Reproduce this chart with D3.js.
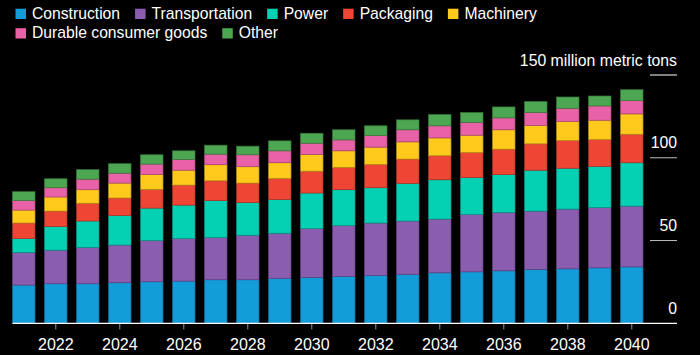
<!DOCTYPE html>
<html>
<head>
<meta charset="utf-8">
<script src="https://cdn.jsdelivr.net/npm/d3@7/dist/d3.min.js"></script>
<style>
  html, body { margin: 0; padding: 0; background: #000; }
  svg { display: block; font-family: "Liberation Sans", Arial, Helvetica, sans-serif; }
</style>
</head>
<body>
<svg id="chart" width="700" height="355"></svg>
<script>
const years = d3.range(2021, 2041);
const seriesNames = ["Construction", "Transportation", "Power", "Packaging", "Machinery", "Durable consumer goods", "Other"];
const seriesColors = ["#129dd9", "#8a5db0", "#04d0b3", "#ef4535", "#ffca1c", "#e961a6", "#4da752"];

const construction   = [23.1, 23.9, 23.9, 24.5, 25.1, 25.5, 26.3, 26.3, 27.1, 27.7, 28.3, 28.9, 29.5, 30.5, 31.1, 31.7, 32.5, 32.9, 33.5, 34.1];
const transportation = [19.7, 20.3, 21.9, 22.8, 24.9, 25.7, 25.5, 26.9, 27.3, 29.5, 30.7, 31.7, 32.3, 32.5, 34.7, 35.3, 35.3, 36.1, 36.4, 36.7];
const power          = [ 8.4, 14.2, 16.0, 17.8, 19.6, 20.2, 22.3, 19.7, 20.3, 21.5, 21.7, 21.3, 22.7, 23.7, 22.2, 22.8, 24.7, 24.7, 24.9, 26.2];
const packaging      = [ 9.4,  9.4, 10.7, 10.6, 11.3, 12.1, 12.0, 11.8, 12.8, 13.2, 13.5, 14.1, 14.7, 14.5, 15.2, 15.4, 15.9, 16.7, 16.2, 17.2];
const machinery      = [ 7.8,  8.5,  8.2,  9.0,  9.0,  9.0,  9.7,  9.9,  9.5, 10.1, 10.0, 10.4, 10.4, 10.8, 10.4, 11.7, 11.1, 11.6, 11.7, 12.3];
const durable        = [ 5.7,  5.6,  6.4,  6.0,  6.3,  6.5,  6.4,  7.2,  7.2,  6.8,  6.6,  7.0,  7.3,  7.3,  7.8,  7.2,  7.8,  7.9,  8.6,  8.0];
const other          = [ 5.4,  5.4,  5.7,  5.7,  5.6,  5.2,  5.4,  5.2,  6.0,  6.0,  6.1,  5.9,  6.0,  6.8,  5.9,  6.6,  6.6,  6.8,  6.0,  6.6];

const xTickYears = [2022, 2024, 2026, 2028, 2030, 2032, 2034, 2036, 2038, 2040];
const yTicks = [0, 50, 100, 150];
const yUnitLabel = "million metric tons";

const seriesValues = [construction, transportation, power, packaging, machinery, durable, other];
const table = years.map((yr, i) => {
  const row = { year: yr };
  seriesNames.forEach((n, k) => row[n] = seriesValues[k][i]);
  return row;
});

const svg = d3.select("#chart");

const x = d3.scaleBand().domain(years).range([7.8, 647.8]).paddingInner(0.3).paddingOuter(0.15);
const y = d3.scaleLinear().domain([0, 150]).range([323.3, 75]);
const color = d3.scaleOrdinal().domain(seriesNames).range(seriesColors);

const stacked = d3.stack().keys(seriesNames)(table);

// bars
svg.append("g").selectAll("g").data(stacked).join("g")
  .attr("fill", d => color(d.key))
  .attr("stroke", d => d3.color(color(d.key)).darker(0.9))
  .attr("stroke-width", 0.7)
  .selectAll("rect").data(d => d).join("rect")
  .attr("x", d => x(d.data.year))
  .attr("width", x.bandwidth())
  .attr("y", d => y(d[1]))
  .attr("height", d => y(d[0]) - y(d[1]));

// y gridline stubs + labels (right side)
const yg = svg.append("g");
yTicks.forEach(t => {
  if (t > 0) {
    yg.append("line")
      .attr("x1", 650).attr("x2", 677)
      .attr("y1", y(t)).attr("y2", y(t))
      .attr("stroke", t === 150 ? "#fff" : "#bdbdbd").attr("stroke-width", 1);
  }
  yg.append("text")
    .attr("x", 677).attr("y", y(t) - 9.5)
    .attr("text-anchor", "end")
    .attr("fill", "#fff")
    .attr("font-size", "15.8px")
    .text(t === 150 ? t + " " + yUnitLabel : t);
});

// x axis
const xAxis = d3.axisBottom(x).tickValues(xTickYears).tickSize(6).tickPadding(9).tickFormat(d3.format("d"));
const xg = svg.append("g").attr("transform", `translate(0,${y(0)})`).call(xAxis);
xg.select(".domain").remove();
xg.selectAll(".tick line").attr("stroke", "#9a9a9a").attr("stroke-width", 1);
xg.selectAll(".tick text").attr("fill", "#fff").attr("font-size", "16px")
  .attr("font-family", "'Liberation Sans', Arial, Helvetica, sans-serif");
svg.append("line")
  .attr("x1", 12.5).attr("x2", 677)
  .attr("y1", y(0)).attr("y2", y(0))
  .attr("stroke", "#fff").attr("stroke-width", 1.2);

// legend
const rows = [seriesNames.slice(0, 5), seriesNames.slice(5)];
const rowY = [19, 38.5];
rows.forEach((names, r) => {
  let cx = 15.5;
  names.forEach(n => {
    const g = svg.append("g");
    g.append("rect").attr("x", cx).attr("y", rowY[r] - 10.3).attr("width", 10.5).attr("height", 10.3).attr("fill", color(n));
    const t = g.append("text").attr("x", cx + 16.5).attr("y", rowY[r] - 0.5)
      .attr("fill", "#fff").attr("font-size", "15.7px").text(n);
    cx = cx + 16.5 + t.node().getComputedTextLength() + 15;
  });
});
</script>
</body>
</html>
